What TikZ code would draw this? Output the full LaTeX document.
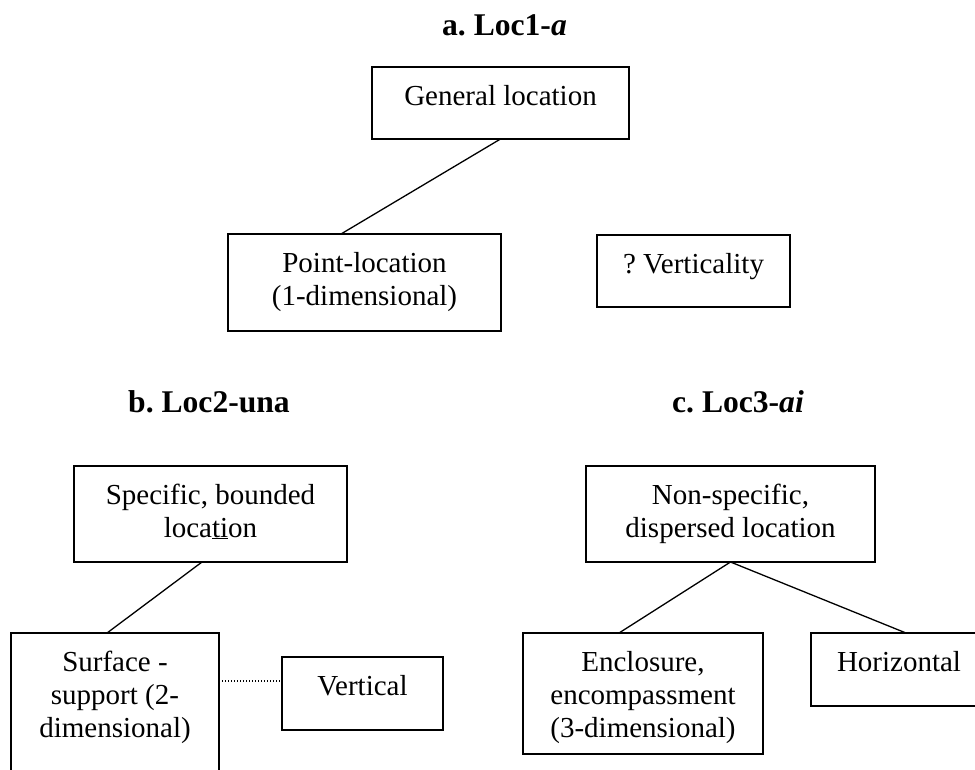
\documentclass[tikz,border=0pt]{standalone}
\usepackage{fontspec}
\setmainfont{Liberation Serif}
\frenchspacing
\usetikzlibrary{positioning}
\newcommand\bodyfont{\fontsize{29}{33}\selectfont}
\newcommand\headfont{\fontsize{31.6}{36}\selectfont\bfseries}
\tikzset{
  every node/.style={inner sep=0pt, outer sep=0pt},
  box/.style 2 args={draw, line width=1.5pt, minimum width=#1, minimum height=#2},
  txt/.style={font=\bodyfont, align=center, anchor=north, yshift=-14.9pt},
  head/.style={font=\headfont, anchor=base},
  link/.style={line width=1.3pt},
  dotline/.style={line width=1.2pt, dash pattern=on 1.2pt off 1.8pt, shorten <=3pt, shorten >=2pt},
}

\begin{document}
\begin{tikzpicture}[x=1pt, y=-1pt]
\useasboundingbox (0,0) rectangle (975,769);
\clip (0,0) rectangle (975,769);

% ---------------------------------------------------------------- a. Loc1-a
\node[head] (ha) at (504.5,35) {a. Loc1-\textit{a}};
\node[box={257}{72}] (gen) at (500.5,103) {};
\node[txt] (gent) at (gen.north) {\strut General location};
\node[box={273}{97}] (pt) at (364.5,282.5) {};
\node[txt] (ptt) at (pt.north) {\strut Point-location\\(1-dimensional)};
\node[box={193}{72}] (vty) at (693.5,271) {};
\node[txt] (vtyt) at (vty.north) {\strut ? Verticality};
\draw[link] (gen.south) -- ([xshift=-23.5pt]pt.north);

% ---------------------------------------------------------------- b. Loc2-una
\node[head] (hb) at (209,412) {b. Loc2-una};
\node[box={273}{96}] (spec) at (210.5,514) {};
\node[txt] (spect) at (spec.north) {\strut Specific, bounded\\loca\underline{ti}on};
\node[box={208}{142}] (surf) at (115,704) {};
\node[txt] (surft) at (surf.north) {\strut Surface -\\support (2-\\dimensional)};
\node[box={161}{73}] (vert) at (362.5,693.5) {};
\node[txt] (vertt) at (vert.north) {\strut Vertical};
\draw[link] ([xshift=-8.5pt]spec.south) -- ([xshift=-8pt]surf.north);
\draw[dotline] ([yshift=12.5pt]vert.west -| surf.east) -- ([yshift=12.5pt]vert.west);

% ---------------------------------------------------------------- c. Loc3-ai
\node[head] (hc) at (738,412) {c. Loc3-\textit{ai}};
\node[box={289}{96}] (nons) at (730.5,514) {};
\node[txt] (nonst) at (nons.north) {\strut Non-specific,\\dispersed location};
\node[box={240}{121}] (encl) at (643,693.5) {};
\node[txt] (enclt) at (encl.north) {\strut Enclosure,\\encompassment\\(3-dimensional)};
\node[box={176}{73}] (hor) at (899,669.5) {};
\node[txt] (hort) at (hor.north) {\strut Horizontal};
\draw[link] (nons.south) -- ([xshift=-24pt]encl.north);
\draw[link] (nons.south) -- ([xshift=7pt]hor.north);

\end{tikzpicture}
\end{document}
